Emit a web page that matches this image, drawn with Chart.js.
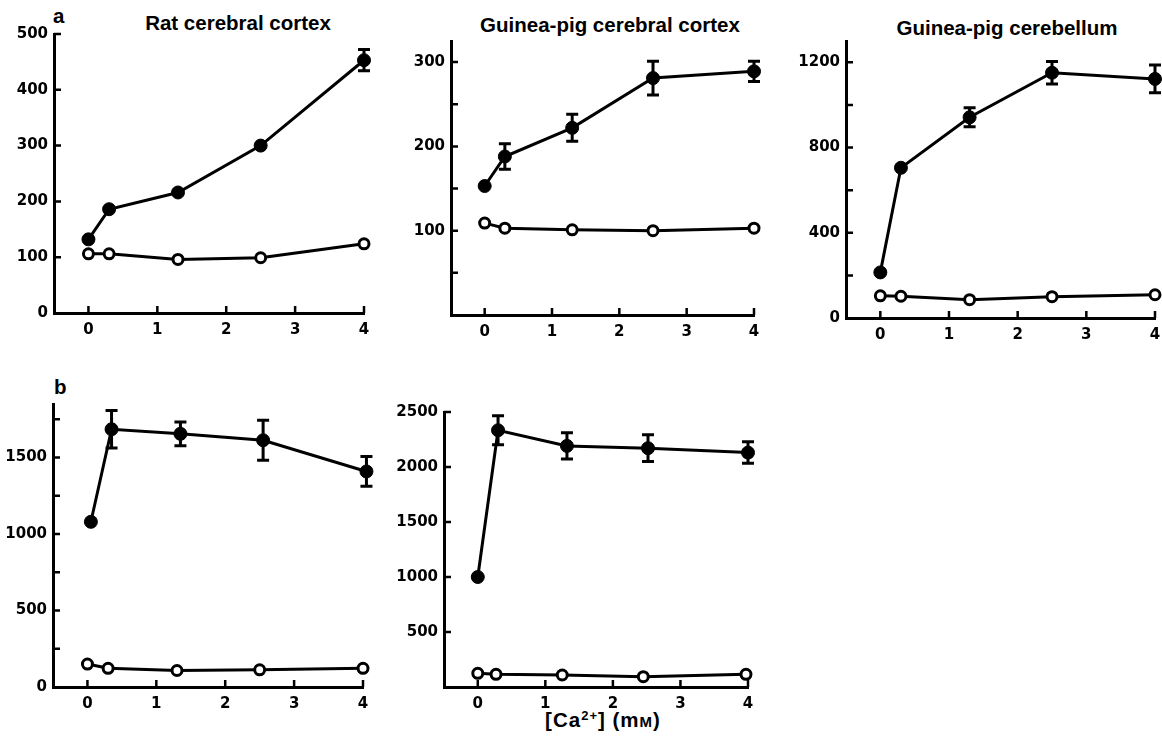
<!DOCTYPE html>
<html>
<head>
<meta charset="utf-8">
<script src="https://cdn.jsdelivr.net/npm/chart.js@4.4.1/dist/chart.umd.min.js"></script>
<style>
  html, body { margin: 0; padding: 0; background: #fff; }
  #page { position: relative; width: 1162px; height: 740px; overflow: hidden; }
  #page canvas { position: absolute; }
  .txt {
    position: absolute;
    font-family: "Liberation Sans", Arial, Helvetica, sans-serif;
    font-weight: bold;
    font-size: 20.5px;
    line-height: 1;
    color: #000;
    white-space: nowrap;
  }
  .center { transform: translateX(-50%); }
  sup { font-size: 13px; vertical-align: 7px; line-height: 0; }
</style>
</head>
<body>
<div id="page">
  <div class="txt" style="left:53px; top:6px;">a</div>
  <div class="txt center" style="left:238px; top:13px;">Rat cerebral cortex</div>
  <div class="txt center" style="left:610px; top:15px;">Guinea-pig cerebral cortex</div>
  <div class="txt center" style="left:1007px; top:18px;">Guinea-pig cerebellum</div>
  <div class="txt" style="left:54px; top:377px;">b</div>
  <div class="txt center" style="left:603px; top:710px; letter-spacing:1px;">[Ca<sup>2+</sup>] (m<span style="font-size:15px">M</span>)</div>

  <canvas id="ratCortex"></canvas>
  <canvas id="gpCortex"></canvas>
  <canvas id="gpCerebellum"></canvas>
  <canvas id="panelB1"></canvas>
  <canvas id="panelB2"></canvas>
</div>

<script>
// [Ca2+] (mM) at which each point was measured
const caLevels = [0, 0.3, 1.3, 2.5, 4];
const xTicks = [0, 1, 2, 3, 4];

// a, rat cerebral cortex
const ratCortexStim = [132, 186, 216, 300, 453];
const ratCortexStimErr = [0, 0, 0, 0, 19];
const ratCortexBasal = [106, 106, 96, 99, 124];
const ratCortexYTicks = [0, 100, 200, 300, 400, 500];
const ratCortexYLabels = [0, 100, 200, 300, 400, 500];

// a, guinea-pig cerebral cortex
const gpCortexStim = [153, 188, 222, 281, 289];
const gpCortexStimErr = [0, 15, 16, 20, 12];
const gpCortexBasal = [109, 103, 101, 100, 103];
const gpCortexYTicks = [50, 100, 150, 200, 250, 300];
const gpCortexYLabels = [100, 200, 300];

// a, guinea-pig cerebellum
const gpCerebStim = [214, 705, 942, 1151, 1122];
const gpCerebStimErr = [0, 0, 45, 53, 65];
const gpCerebBasal = [104, 102, 86, 100, 109];
const gpCerebYTicks = [0, 200, 400, 600, 800, 1000, 1200];
const gpCerebYLabels = [0, 400, 800, 1200];

// b, left panel
const b1StimCa = [0.05, 0.35, 1.35, 2.55, 4.05];
const b1Stim = [1080, 1685, 1655, 1613, 1409];
const b1StimErr = [0, 123, 78, 130, 97];
const b1BasalCa = [0, 0.3, 1.3, 2.5, 4];
const b1Basal = [150, 122, 108, 112, 122];
const b1YTicks = [0, 250, 500, 750, 1000, 1250, 1500, 1750];
const b1YLabels = [0, 500, 1000, 1500];

// b, right panel
const b2StimCa = [0, 0.3, 1.32, 2.52, 4];
const b2Stim = [1000, 2334, 2192, 2171, 2131];
const b2StimErr = [0, 131, 120, 122, 98];
const b2BasalCa = [0, 0.27, 1.25, 2.45, 3.97];
const b2Basal = [124, 115, 109, 94, 115];
const b2YTicks = [500, 1000, 1500, 2000, 2500];
const b2YLabels = [500, 1000, 1500, 2000, 2500];

const TICK_LEN = 7;
const Y_AXIS_W = 70;
const X_AXIS_H = 36;
const PAD = 14;

// short ticks pointing into the plot, like the printed figure
const inwardTicks = {
  id: "inwardTicks",
  beforeDatasetsDraw(chart) {
    const { ctx, chartArea, scales } = chart;
    ctx.save();
    ctx.strokeStyle = "#000";
    ctx.lineWidth = 2.5;
    ctx.beginPath();
    scales.x.ticks.forEach((t) => {
      if (t.value <= scales.x.min) return;
      const px = scales.x.getPixelForValue(t.value);
      ctx.moveTo(px, chartArea.bottom);
      ctx.lineTo(px, chartArea.bottom - TICK_LEN);
    });
    scales.y.ticks.forEach((t) => {
      if (t.value <= scales.y.min) return;
      const py = scales.y.getPixelForValue(t.value);
      ctx.moveTo(chartArea.left, py);
      ctx.lineTo(chartArea.left + TICK_LEN, py);
    });
    ctx.stroke();
    ctx.restore();
  },
};

// vertical error bars with caps (reads dataset.errorBars)
const errorBars = {
  id: "errorBars",
  beforeDatasetsDraw(chart) {
    const { ctx, scales } = chart;
    ctx.save();
    ctx.strokeStyle = "#000";
    ctx.lineWidth = 3;
    chart.data.datasets.forEach((ds) => {
      if (!ds.errorBars) return;
      ds.data.forEach((pt, i) => {
        const err = ds.errorBars[i];
        if (!err) return;
        const px = scales.x.getPixelForValue(pt.x);
        const top = scales.y.getPixelForValue(pt.y + err);
        const bot = scales.y.getPixelForValue(pt.y - err);
        ctx.beginPath();
        ctx.moveTo(px, top);
        ctx.lineTo(px, bot);
        ctx.moveTo(px - 6, top);
        ctx.lineTo(px + 6, top);
        ctx.moveTo(px - 6, bot);
        ctx.lineTo(px + 6, bot);
        ctx.stroke();
      });
    });
    ctx.restore();
  },
};

function toPoints(xs, ys) {
  return xs.map((x, i) => ({ x: x, y: ys[i] }));
}

function createPanel(id, area, yMax, yTicks, yLabels, series) {
  const canvas = document.getElementById(id);
  const w = area.right - area.left + Y_AXIS_W + PAD;
  const h = area.bottom - area.top + PAD + X_AXIS_H;
  canvas.width = w;
  canvas.height = h;
  canvas.style.left = area.left - Y_AXIS_W + "px";
  canvas.style.top = area.top - PAD + "px";
  canvas.style.width = w + "px";
  canvas.style.height = h + "px";

  const tickFont = { family: "'DejaVu Sans', sans-serif", size: 15, weight: "bold" };

  return new Chart(canvas.getContext("2d"), {
    type: "scatter",
    data: {
      datasets: [
        {
          data: toPoints(series.stimCa, series.stim),
          errorBars: series.stimErr,
          showLine: true,
          borderColor: "#000",
          borderWidth: 3,
          backgroundColor: "#000",
          pointRadius: 6.5,
          pointBorderWidth: 1,
          pointBackgroundColor: "#000",
          pointBorderColor: "#000",
          clip: false,
        },
        {
          data: toPoints(series.basalCa, series.basal),
          showLine: true,
          borderColor: "#000",
          borderWidth: 3,
          pointRadius: 5,
          pointBorderWidth: 3,
          pointBackgroundColor: "#fff",
          pointBorderColor: "#000",
          clip: false,
        },
      ],
    },
    options: {
      responsive: false,
      animation: false,
      devicePixelRatio: 1,
      layout: { padding: { left: 0, top: PAD, right: PAD, bottom: 0 } },
      plugins: { legend: { display: false }, tooltip: { enabled: false } },
      scales: {
        x: {
          type: "linear",
          min: -0.5,
          max: 4,
          grid: { display: false, drawTicks: false },
          border: { display: true, color: "#000", width: 3 },
          afterBuildTicks: (scale) => {
            scale.ticks = xTicks.map((v) => ({ value: v }));
          },
          afterFit: (scale) => {
            scale.height = X_AXIS_H;
          },
          ticks: {
            color: "#000",
            font: tickFont,
            padding: 8,
            autoSkip: false,
            maxRotation: 0,
            callback: (v) => String(v),
          },
        },
        y: {
          type: "linear",
          min: 0,
          max: yMax,
          grid: { display: false, drawTicks: false },
          border: { display: true, color: "#000", width: 3 },
          afterBuildTicks: (scale) => {
            scale.ticks = yTicks.map((v) => ({ value: v }));
          },
          afterFit: (scale) => {
            scale.width = Y_AXIS_W;
          },
          ticks: {
            color: "#000",
            font: tickFont,
            padding: 6,
            autoSkip: false,
            callback: (v) => (yLabels.includes(v) ? String(v) : ""),
          },
        },
      },
    },
    plugins: [inwardTicks, errorBars],
  });
}

document.addEventListener("DOMContentLoaded", () => {
  createPanel("ratCortex", { left: 54, right: 364, top: 33, bottom: 313 }, 500,
    ratCortexYTicks, ratCortexYLabels, {
      stimCa: caLevels, stim: ratCortexStim, stimErr: ratCortexStimErr,
      basalCa: caLevels, basal: ratCortexBasal,
    });

  createPanel("gpCortex", { left: 451, right: 754, top: 40, bottom: 315 }, 325,
    gpCortexYTicks, gpCortexYLabels, {
      stimCa: caLevels, stim: gpCortexStim, stimErr: gpCortexStimErr,
      basalCa: caLevels, basal: gpCortexBasal,
    });

  createPanel("gpCerebellum", { left: 846, right: 1155, top: 40, bottom: 318 }, 1300,
    gpCerebYTicks, gpCerebYLabels, {
      stimCa: caLevels, stim: gpCerebStim, stimErr: gpCerebStimErr,
      basalCa: caLevels, basal: gpCerebBasal,
    });

  createPanel("panelB1", { left: 53, right: 363, top: 403, bottom: 687 }, 1850,
    b1YTicks, b1YLabels, {
      stimCa: b1StimCa, stim: b1Stim, stimErr: b1StimErr,
      basalCa: b1BasalCa, basal: b1Basal,
    });

  createPanel("panelB2", { left: 444, right: 748, top: 411, bottom: 687 }, 2500,
    b2YTicks, b2YLabels, {
      stimCa: b2StimCa, stim: b2Stim, stimErr: b2StimErr,
      basalCa: b2BasalCa, basal: b2Basal,
    });
});
</script>
</body>
</html>
